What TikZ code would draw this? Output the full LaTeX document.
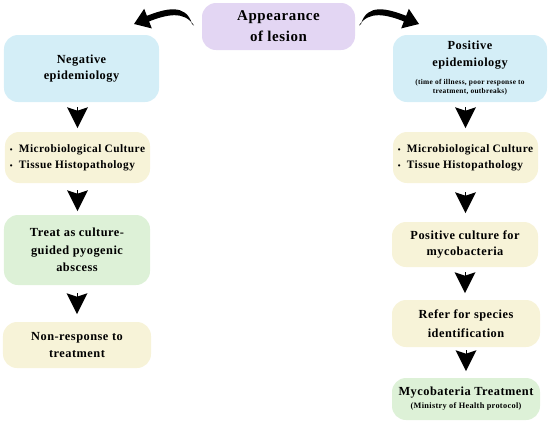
\documentclass[tikz,border=0pt]{standalone}
\usepackage{fontspec}
\setmainfont{Liberation Serif}[LetterSpace=4]
\usetikzlibrary{arrows.meta,calc}
\definecolor{cpurple}{HTML}{E3D6F3}
\definecolor{cblue}{HTML}{D4EEF7}
\definecolor{cyellow}{HTML}{F7F3D8}
\definecolor{cgreen}{HTML}{DDF1D7}
\newcommand\smallbul{\makebox[9bp][l]{\fontsize{8}{8}\selectfont\textbullet}}
\begin{document}
\begin{tikzpicture}[x=1bp,y=-1bp,
  box/.style={rounded corners=14bp, inner sep=0pt, align=center,
    font=\bfseries\fontsize{12.4}{17}\selectfont},
  dnarrow/.style={line width=0pt, -{Stealth[length=21bp,width=21bp,inset=3.5bp]}}]
\useasboundingbox (0,0) rectangle (550,425);
\node[box, fill=cpurple, minimum width=153bp, minimum height=47bp,
  font=\bfseries\fontsize{15}{21}\selectfont] (top) at (278.5,26.5) {Appearance\\of lesion};
\node[box, fill=cblue, minimum width=155bp, minimum height=67bp,
  font=\bfseries\fontsize{12.4}{16}\selectfont] (neg) at (81.5,68.5) {Negative\\epidemiology};
\node[box, fill=cblue, minimum width=154bp, minimum height=67bp] (pos) at (470,68.5)
  {Positive\\epidemiology\\[0.5pt]{\fontsize{7.4}{9}\selectfont\begin{tabular}[t]{@{}c@{}}(time of illness, poor response to\\treatment, outbreaks)\end{tabular}}};
\node[box, fill=cyellow, minimum width=145bp, minimum height=51bp, align=left,
  font=\bfseries\fontsize{11.4}{16}\selectfont] (micL) at (77.5,157.5)
  {\smallbul Microbiological Culture\\\smallbul Tissue Histopathology};
\node[box, fill=cgreen, minimum width=146bp, minimum height=70bp,
  font=\bfseries\fontsize{12.4}{17.5}\selectfont] (treat) at (77,250) {Treat as culture-\\guided pyogenic\\abscess};
\node[box, fill=cyellow, minimum width=148bp, minimum height=46bp] (nonr) at (77,345) {Non-response to\\treatment};
\node[box, fill=cyellow, minimum width=145bp, minimum height=51bp, align=left,
  font=\bfseries\fontsize{11.4}{16}\selectfont] (micR) at (465.5,157.5)
  {\smallbul Microbiological Culture\\\smallbul Tissue Histopathology};
\node[box, fill=cyellow, minimum width=146bp, minimum height=45bp] (posc) at (465,244.5) {Positive culture for\\mycobacteria};
\node[box, fill=cyellow, minimum width=148bp, minimum height=47bp,
  font=\bfseries\fontsize{12.4}{18.5}\selectfont] (refer) at (466,323.5) {Refer for species\\identification};
\node[box, fill=cgreen, minimum width=148bp, minimum height=42bp,
  font=\bfseries\fontsize{12.4}{13}\selectfont] (myco) at (466,399)
  {Mycobateria Treatment\\{\fontsize{8.3}{10}\selectfont (Ministry of Health protocol)}};
% down arrows
\draw[dnarrow] ($(neg.south -| micL.north)+(0,5)$) -- +(0,21);
\draw[dnarrow] ($(micL.south)+(0,7)$) -- +(0,21);
\draw[dnarrow] ($(treat.south)+(0,8)$) -- +(0,21);
\draw[dnarrow] ($(pos.south -| micR.north)+(0,5)$) -- +(0,21);
\draw[dnarrow] ($(micR.south)+(0,9)$) -- +(0,21);
\draw[dnarrow] ($(posc.south)+(0,5)$) -- +(0,21);
\draw[dnarrow] ($(refer.south)+(0,3)$) -- +(0,21);
% curved arrows (tapered, drawn as filled shapes)
\fill[black] (192,24) .. controls (186,3) and (165.5,8.6) .. (146.9,15.8)
  -- (144.2,8.8) -- (134,24) -- (151.8,28.4) -- (149.1,21.4)
  .. controls (165.8,14.9) and (184,10) .. (194,25.5) -- cycle;
\fill[black] (361,24) .. controls (367,3) and (387.5,8.6) .. (406.1,15.8)
  -- (408.8,8.8) -- (419,24) -- (401.2,28.4) -- (403.9,21.4)
  .. controls (387.2,14.9) and (369,10) .. (359,25.5) -- cycle;
\end{tikzpicture}
\end{document}
